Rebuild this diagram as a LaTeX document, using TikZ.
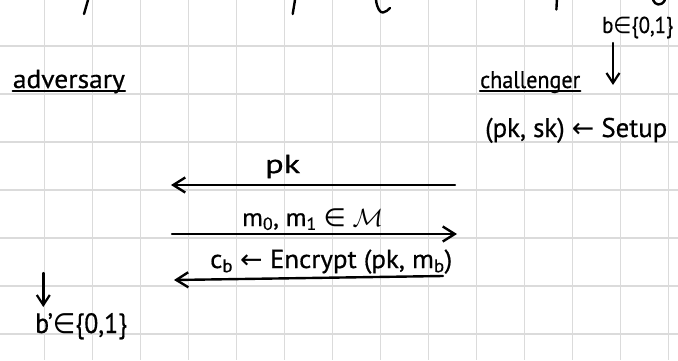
\documentclass[tikz,border=0pt]{standalone}
\usepackage{fontspec}
\usepackage{graphicx}
\setmainfont{PT Sans}[FakeBold=0.6]
\newfontfamily\symf{DejaVu Sans}
\usetikzlibrary{arrows.meta}
\newcommand\myin{{\symf ∈}}
\newcommand\myarr{{\symf ←}}
\newcommand\fitw[2]{\resizebox{#1pt}{\height}{#2}}
\begin{document}
\begin{tikzpicture}[x=1pt,y=-1pt,
  gridline/.style={draw=black!14, line width=1.6pt},
  hand/.style={line width=2.4pt, line cap=round, line join=round},
  msg/.style={hand, -{Straight Barb[length=12pt,width=15pt,line width=2.4pt]}},
  down/.style={hand, -{Straight Barb[length=10pt,width=13pt,line width=2.2pt]}},
  lbl/.style={inner sep=0pt, anchor=base west},
  ul/.style={line width=2.2pt, line cap=round},
]
\useasboundingbox (0,0) rectangle (678,360);
\fill[white] (0,0) rectangle (678,360);
% grid paper
\foreach \i in {0,...,13} \draw[gridline] (44.3+48*\i,0) -- (44.3+48*\i,360);
\foreach \j in {0,...,6} \draw[gridline] (0,45.7+48*\j) -- (678,45.7+48*\j);
% cut-off handwriting at the top edge
\draw[hand] (88,0) -- (84,14);
\draw[hand] (295,0) -- (292.7,14);
\draw[hand] (376,0) .. controls (377,8) and (380,13) .. (383,12.5) .. controls (386,12) and (388,10) .. (390,8);
\draw[hand] (556.9,0) -- (556.4,9.5);
\draw[hand] (653,0) .. controls (655,5) and (661,7) .. (665,0);
% parties
\node[lbl, font=\fontsize{26}{30}\selectfont] (adv) at (12.7,88) {\fitw{112}{adversary}};
\draw[ul] ([yshift=-3pt]adv.base west) -- ([yshift=-3pt]adv.base east);
\node[lbl, font=\fontsize{24}{28}\selectfont] (chal) at (480,88) {\fitw{100}{challenger}};
\draw[ul] ([yshift=-3pt]chal.base west) -- ([yshift=-3pt]chal.base east);
% challenger side
\node[lbl, font=\fontsize{23}{27}\selectfont] (bsel) at (602,33) {\fitw{71}{b\myin\{0,1\}}};
\coordinate (bdownA) at (613,43);
\coordinate (bdownB) at (613,85);
\draw[down] (bdownA) -- (bdownB);
\node[lbl, font=\fontsize{27}{31}\selectfont] (setup) at (485,137) {\fitw{182}{(pk, sk) \myarr\ Setup}};
% messages
\coordinate (pkR) at (455,185);
\coordinate (pkL) at (171,185);
\draw[msg] (pkR) -- (pkL);
\node[lbl, font=\fontsize{26}{30}\selectfont] (pklbl) at (265,173) {\fitw{35}{pk}};
\coordinate (mL) at (172,234);
\coordinate (mR) at (457,234);
\draw[msg] (mL) -- (mR);
\node[lbl, font=\fontsize{25}{29}\selectfont] (mlbl) at (242,226) {\fitw{141}{m\textsubscript{0}, m\textsubscript{1} \myin\ $\mathcal{M}$}};
\coordinate (cR) at (443,276);
\coordinate (cL) at (174,280);
\draw[msg] (cR) -- (cL);
\node[lbl, font=\fontsize{26}{30}\selectfont] (clbl) at (210,268) {\fitw{242}{c\textsubscript{b} \myarr\ Encrypt (pk, m\textsubscript{b})}};
% adversary output
\coordinate (advA) at (43.3,273);
\coordinate (advB) at (43.3,307);
\draw[down] (advA) -- (advB);
\node[lbl, font=\fontsize{28}{32}\selectfont] (bout) at (35,333) {\fitw{92}{b'\myin\{0,1\}}};
\end{tikzpicture}
\end{document}
